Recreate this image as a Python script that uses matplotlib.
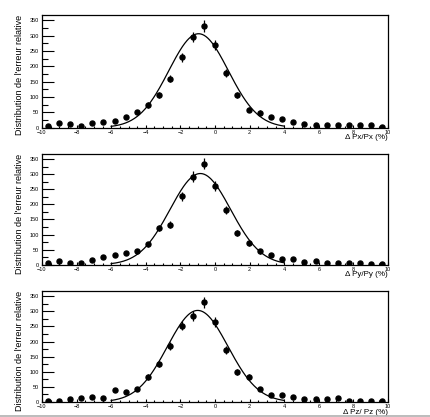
"""
Relative error distributions of Px, Py, Pz with gaussian fits
"""

import numpy as np
import matplotlib
matplotlib.use("Agg")
import matplotlib.pyplot as plt
from matplotlib.ticker import MultipleLocator

# ==========================================================
# DATA
# ==========================================================

BIN_EDGES = np.linspace(-10, 10, 32)

COUNTS_PX = [5, 14, 12, 5, 14, 18, 23, 34, 50, 74, 106, 160, 229, 295, 331,
             269, 179, 107, 59, 49, 34, 28, 17, 12, 9, 8, 7, 8, 9, 7, 2]

COUNTS_PY = [6, 12, 6, 6, 17, 26, 34, 39, 44, 68, 122, 133, 226, 292, 334,
             261, 180, 105, 71, 44, 32, 20, 18, 9, 12, 7, 7, 7, 7, 1, 3]

COUNTS_PZ = [4, 4, 9, 12, 15, 14, 40, 34, 44, 83, 126, 186, 253, 285, 330,
             266, 172, 100, 84, 42, 24, 24, 18, 11, 10, 11, 13, 3, 4, 2, 4]

# gaussian fit parameters: amplitude, mean, sigma
FIT_PX = [306, -0.95, 1.72]
FIT_PY = [302, -0.85, 1.75]
FIT_PZ = [303, -1.0, 1.75]

FIT_RANGE = [-6, 4]

XLABELS = ["\u0394 Px/Px (%)", "\u0394 Py/Py (%)", "\u0394 Pz/ Pz (%)"]

YLABEL = "Distribution de l'erreur relative"

# ==========================================================
# STYLE
# ==========================================================

plt.rcParams["font.family"] = ["Liberation Sans", "DejaVu Sans"]

# axes boxes in figure fraction (left, bottom, width, height)
AXES_BOXES = [
    (0.0974, 0.694, 0.803, 0.270),
    (0.0974, 0.365, 0.803, 0.266),
    (0.0974, 0.036, 0.803, 0.266),
]


def draw_panel(ax, counts, fit, xlabel):

    centers = 0.5 * (BIN_EDGES[:-1] + BIN_EDGES[1:])
    counts = np.array(counts, dtype=float)

    ax.errorbar(
        centers,
        counts,
        yerr=np.sqrt(counts),
        fmt="o",
        color="black",
        markersize=3.6,
        elinewidth=0.9,
        capsize=0,
    )

    amp, mean, sigma = fit
    xs = np.linspace(FIT_RANGE[0], FIT_RANGE[1], 300)
    ax.plot(
        xs,
        amp * np.exp(-0.5 * ((xs - mean) / sigma) ** 2),
        color="black",
        linewidth=0.9,
    )

    ax.set_xlim(-10, 10)
    ax.set_ylim(0, 367)

    ax.xaxis.set_major_locator(MultipleLocator(2))
    ax.xaxis.set_minor_locator(MultipleLocator(0.5))
    ax.yaxis.set_major_locator(MultipleLocator(50))
    ax.yaxis.set_minor_locator(MultipleLocator(25))

    ax.tick_params(axis="y", which="major", direction="in", length=8.6,
                   width=0.8, labelsize=4, pad=2, right=False)
    ax.tick_params(axis="y", which="minor", direction="in", length=4.3,
                   width=0.8, right=False)
    ax.tick_params(axis="x", which="major", direction="in", length=2.5,
                   width=0.8, labelsize=4, pad=1.5, top=False)
    ax.tick_params(axis="x", which="minor", direction="in", length=1.5,
                   width=0.8, top=False)

    for spine in ax.spines.values():
        spine.set_linewidth(0.9)

    ax.set_xlabel(xlabel, fontsize=5.8, loc="right", labelpad=-0.3)
    ax.set_ylabel(YLABEL, fontsize=6.5, loc="top", labelpad=4)


# ==========================================================
# MAIN
# ==========================================================

def main():

    fig = plt.figure(figsize=(4.31, 4.17), dpi=100)

    panels = [
        (COUNTS_PX, FIT_PX),
        (COUNTS_PY, FIT_PY),
        (COUNTS_PZ, FIT_PZ),
    ]

    for box, (counts, fit), xlabel in zip(AXES_BOXES, panels, XLABELS):

        ax = fig.add_axes(box)

        draw_panel(ax, counts, fit, xlabel)

    # thin grey frame line at the bottom of the canvas
    fig.add_artist(
        plt.Line2D([0, 1], [0.003, 0.003], color="#b0b0b0",
                   linewidth=1.2, transform=fig.transFigure)
    )

    fig.savefig("out.png", dpi=100)

    plt.close(fig)


if __name__ == "__main__":

    main()
